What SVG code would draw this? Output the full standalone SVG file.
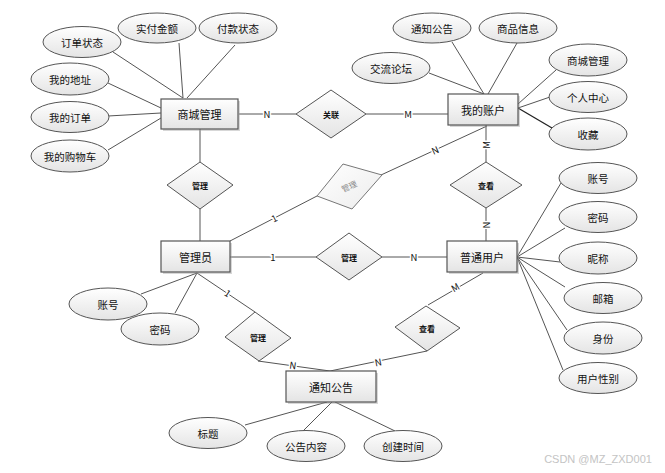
<svg xmlns="http://www.w3.org/2000/svg" width="665" height="473" viewBox="0 0 665 473">
<defs>
<linearGradient id="g" x1="0" y1="0" x2="0" y2="1">
<stop offset="0" stop-color="#ffffff"/>
<stop offset="1" stop-color="#e4e4e4"/>
</linearGradient>
<linearGradient id="gt" x1="0" y1="0" x2="1" y2="1">
<stop offset="0" stop-color="#ffffff"/>
<stop offset="1" stop-color="#ececec"/>
</linearGradient>
</defs>
<style>
text{font-family:"Noto Sans CJK SC","Liberation Sans",sans-serif;text-anchor:middle;dominant-baseline:central;fill:#111}
.e{fill:url(#g);stroke:#555;stroke-width:1}
.r{fill:url(#g);stroke:#555;stroke-width:1.2}
.sh{fill:#9a9a9a;opacity:0.4}
.d{fill:url(#g);stroke:#555;stroke-width:1}
.at{font-size:10.5px}
.en{font-size:11px}
.dt{font-size:8px;font-weight:bold}
.c line{stroke:#555;stroke-width:1}
.lb{font-size:9.5px;stroke:#fff;stroke-width:3px;paint-order:stroke;fill:#111}
</style>
<rect width="665" height="473" fill="#fff"/>

<g id="connectors" class="c">
<line x1="113" y1="52" x2="183" y2="98"/>
<line x1="179" y1="43" x2="183" y2="98"/>
<line x1="235" y1="45" x2="187" y2="98"/>
<line x1="108" y1="83" x2="161" y2="108"/>
<line x1="108" y1="116" x2="161" y2="113"/>
<line x1="108" y1="150" x2="161" y2="118"/>
<line x1="239" y1="114" x2="296" y2="114"/>
<line x1="366" y1="114" x2="448" y2="114"/>
<line x1="429" y1="73" x2="484" y2="94"/>
<line x1="452" y1="42" x2="484" y2="94"/>
<line x1="517" y1="43" x2="488" y2="94"/>
<line x1="556" y1="70" x2="518" y2="104"/>
<line x1="550" y1="97" x2="518" y2="108"/>
<line x1="552" y1="128" x2="518" y2="108" style="stroke:#222;stroke-width:1.3"/>
<line x1="486" y1="125" x2="486" y2="162"/>
<line x1="486" y1="208" x2="486" y2="241"/>
<line x1="200" y1="129" x2="200" y2="162"/>
<line x1="200" y1="209" x2="200" y2="241"/>
<line x1="230" y1="241" x2="317" y2="196"/>
<line x1="381" y1="175" x2="487" y2="126"/>
<line x1="230" y1="257" x2="316" y2="257"/>
<line x1="382" y1="257" x2="447" y2="257"/>
<line x1="141" y1="294" x2="197" y2="273"/>
<line x1="175" y1="313" x2="197" y2="273"/>
<line x1="197" y1="273" x2="255" y2="312"/>
<line x1="258" y1="361" x2="330" y2="371"/>
<line x1="483" y1="273" x2="428" y2="305"/>
<line x1="427" y1="351" x2="330" y2="371"/>
<line x1="245" y1="425" x2="327" y2="402"/>
<line x1="302" y1="432" x2="332" y2="402"/>
<line x1="395" y1="431" x2="335" y2="402"/>
<line x1="517" y1="257" x2="561" y2="183"/>
<line x1="517" y1="257" x2="565" y2="228"/>
<line x1="517" y1="257" x2="560" y2="262"/>
<line x1="517" y1="257" x2="565" y2="287"/>
<line x1="517" y1="257" x2="567" y2="330"/>
<line x1="517" y1="257" x2="563" y2="370"/>
<text class="lb" x="267" y="114">N</text>
<text class="lb" x="408" y="114">M</text>
<text class="lb" transform="translate(486,145) rotate(-90)">M</text>
<text class="lb" transform="translate(486,225) rotate(-90)">N</text>
<text class="lb" transform="translate(274,218) rotate(-27)">1</text>
<text class="lb" transform="translate(435,150) rotate(-24)">N</text>
<text class="lb" x="273" y="257">1</text>
<text class="lb" x="414" y="257">N</text>
<text class="lb" transform="translate(228,293) rotate(34)">1</text>
<text class="lb" transform="translate(455,287) rotate(-30)">M</text>
<text class="lb" transform="translate(293,365) rotate(8)">N</text>
<text class="lb" transform="translate(378,362) rotate(-11)">N</text>
</g>

<g id="e-shop">
<rect class="sh" x="163" y="101" width="77" height="30"/>
<rect class="r" x="161" y="99" width="77" height="30"/>
<text class="en" x="199.5" y="114">商城管理</text>
</g>
<g id="e-account">
<rect class="sh" x="450" y="96" width="70" height="31"/>
<rect class="r" x="448" y="94" width="70" height="31"/>
<text class="en" x="483" y="109.5">我的账户</text>
</g>
<g id="e-admin">
<rect class="sh" x="163" y="243" width="69" height="31"/>
<rect class="r" x="161" y="241" width="69" height="31"/>
<text class="en" x="195.5" y="256.5">管理员</text>
</g>
<g id="e-user">
<rect class="sh" x="449" y="243" width="70" height="31"/>
<rect class="r" x="447" y="241" width="70" height="31"/>
<text class="en" x="482" y="256.5">普通用户</text>
</g>
<g id="e-notice">
<rect class="sh" x="288" y="373" width="90" height="31"/>
<rect class="r" x="286" y="371" width="90" height="31"/>
<text class="en" x="331" y="386.5">通知公告</text>
</g>

<g id="a-orderstatus"><ellipse class="e" cx="82" cy="42" rx="39" ry="15.5"/><text class="at" x="82" y="42">订单状态</text></g>
<g id="a-paid"><ellipse class="e" cx="157" cy="28" rx="39" ry="15"/><text class="at" x="157" y="28">实付金额</text></g>
<g id="a-paystatus"><ellipse class="e" cx="238" cy="28" rx="39" ry="15"/><text class="at" x="238" y="28">付款状态</text></g>
<g id="a-address"><ellipse class="e" cx="70" cy="79" rx="39" ry="16"/><text class="at" x="70" y="79">我的地址</text></g>
<g id="a-myorder"><ellipse class="e" cx="70" cy="117" rx="39" ry="15.5"/><text class="at" x="70" y="117">我的订单</text></g>
<g id="a-cart"><ellipse class="e" cx="70" cy="156" rx="39" ry="16"/><text class="at" x="70" y="156">我的购物车</text></g>

<g id="a-notice2"><ellipse class="e" cx="432" cy="28" rx="39" ry="15"/><text class="at" x="432" y="28">通知公告</text></g>
<g id="a-goods"><ellipse class="e" cx="518" cy="28" rx="39" ry="15"/><text class="at" x="518" y="28">商品信息</text></g>
<g id="a-forum"><ellipse class="e" cx="391" cy="68" rx="39" ry="15.5"/><text class="at" x="391" y="68">交流论坛</text></g>
<g id="a-shopmgr"><ellipse class="e" cx="588" cy="60" rx="39" ry="16"/><text class="at" x="588" y="60">商城管理</text></g>
<g id="a-center"><ellipse class="e" cx="588" cy="97" rx="39" ry="15.5"/><text class="at" x="588" y="97">个人中心</text></g>
<g id="a-fav"><ellipse class="e" cx="588" cy="134" rx="39" ry="16"/><text class="at" x="588" y="134">收藏</text></g>

<g id="a-u-acc"><ellipse class="e" cx="598" cy="178" rx="39" ry="15.5"/><text class="at" x="598" y="178">账号</text></g>
<g id="a-u-pwd"><ellipse class="e" cx="598" cy="217" rx="39" ry="15.5"/><text class="at" x="598" y="217">密码</text></g>
<g id="a-u-nick"><ellipse class="e" cx="598" cy="258" rx="39" ry="16"/><text class="at" x="598" y="258">昵称</text></g>
<g id="a-u-mail"><ellipse class="e" cx="603" cy="298" rx="39" ry="15.5"/><text class="at" x="603" y="298">邮箱</text></g>
<g id="a-u-role"><ellipse class="e" cx="603" cy="338" rx="39" ry="16"/><text class="at" x="603" y="338">身份</text></g>
<g id="a-u-sex"><ellipse class="e" cx="598" cy="378" rx="39" ry="15.5"/><text class="at" x="598" y="378">用户性别</text></g>

<g id="a-m-acc"><ellipse class="e" cx="108" cy="304" rx="39" ry="16"/><text class="at" x="108" y="304">账号</text></g>
<g id="a-m-pwd"><ellipse class="e" cx="160" cy="329" rx="39" ry="16"/><text class="at" x="160" y="329">密码</text></g>

<g id="a-title"><ellipse class="e" cx="208" cy="433" rx="39" ry="15.5"/><text class="at" x="208" y="433">标题</text></g>
<g id="a-content"><ellipse class="e" cx="306" cy="446" rx="39" ry="15.5"/><text class="at" x="306" y="446">公告内容</text></g>
<g id="a-time"><ellipse class="e" cx="403" cy="446" rx="39" ry="15.5"/><text class="at" x="403" y="446">创建时间</text></g>

<g id="r-link"><polygon class="d" points="331,90 366,114 331,138 296,114"/><text class="dt" x="331" y="114">关联</text></g>
<g id="r-manage1"><polygon class="d" points="200,162 233,185 200,209 167,185"/><text class="dt" x="200" y="185">管理</text></g>
<g id="r-view1"><polygon class="d" points="486,162 522,185 486,208 450,185"/><text class="dt" x="486" y="185">查看</text></g>
<g id="r-manage2"><polygon class="d" points="349,233 382,257 349,280 316,257"/><text class="dt" x="349" y="257">管理</text></g>
<g id="r-manage-tilt"><polygon points="343,164 382,175 352,209 317,196" fill="url(#gt)" stroke="#777" stroke-width="1"/><text transform="translate(349,186) rotate(-25)" style="font-size:8px;fill:#888">管理</text></g>
<g id="r-view2"><polygon class="d" points="426,306 460,328 427,351 395,327"/><text class="dt" x="427" y="328">查看</text></g>
<g id="r-manage3"><polygon class="d" points="255,312 291,338 259,361 225,337"/><text class="dt" x="258" y="337">管理</text></g>

<text x="598" y="459" style="font-size:11px;fill:#c4c4c4;font-family:'Liberation Sans',sans-serif">CSDN @MZ_ZXD001</text>
</svg>
